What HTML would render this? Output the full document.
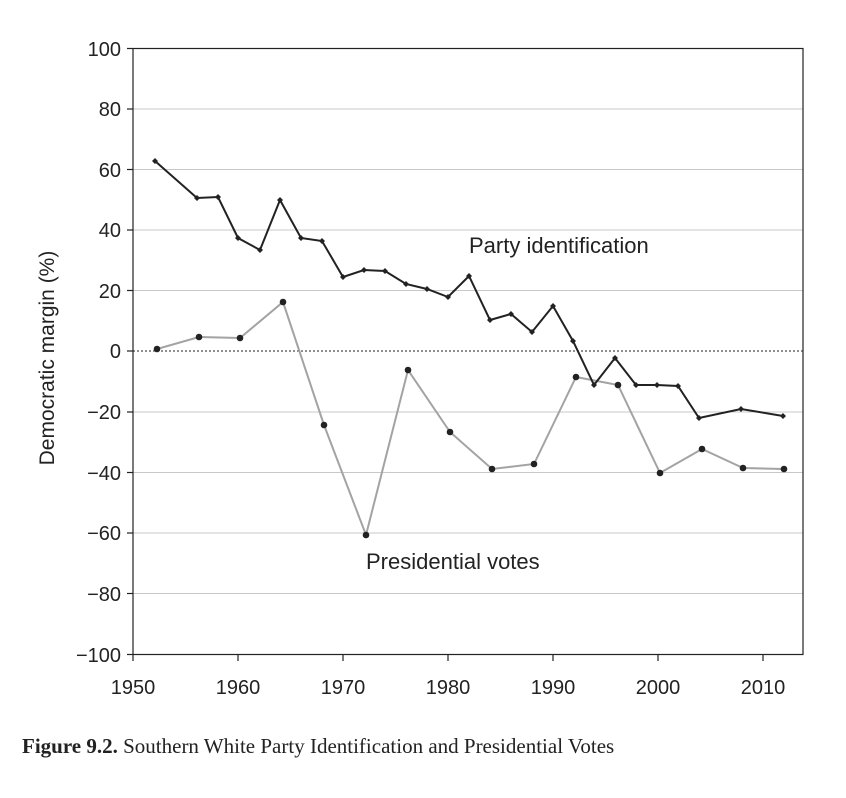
<!DOCTYPE html>
<html><head><meta charset="utf-8"><style>
body{margin:0;background:#fff;}
svg{display:block;}
</style></head><body>
<svg width="846" height="798" xmlns="http://www.w3.org/2000/svg">
<rect width="846" height="798" fill="#fff"/>
<g stroke="#c8c8c8" stroke-width="1">
<line x1="133" x2="803" y1="109" y2="109"/>
<line x1="133" x2="803" y1="169.5" y2="169.5"/>
<line x1="133" x2="803" y1="230" y2="230"/>
<line x1="133" x2="803" y1="290.5" y2="290.5"/>
<line x1="133" x2="803" y1="412" y2="412"/>
<line x1="133" x2="803" y1="472.5" y2="472.5"/>
<line x1="133" x2="803" y1="533" y2="533"/>
<line x1="133" x2="803" y1="593.5" y2="593.5"/>
</g>
<line x1="133" x2="803" y1="351" y2="351" stroke="#222" stroke-width="1" stroke-dasharray="2,2"/>
<rect x="133" y="48.5" width="670" height="606" fill="none" stroke="#222" stroke-width="1.2"/>
<g stroke="#222" stroke-width="1.2">
<line x1="127" x2="133" y1="48.5" y2="48.5"/><line x1="127" x2="133" y1="109" y2="109"/>
<line x1="127" x2="133" y1="169.5" y2="169.5"/><line x1="127" x2="133" y1="230" y2="230"/>
<line x1="127" x2="133" y1="290.5" y2="290.5"/><line x1="127" x2="133" y1="351" y2="351"/>
<line x1="127" x2="133" y1="412" y2="412"/><line x1="127" x2="133" y1="472.5" y2="472.5"/>
<line x1="127" x2="133" y1="533" y2="533"/><line x1="127" x2="133" y1="593.5" y2="593.5"/>
<line x1="127" x2="133" y1="654.5" y2="654.5"/>
<line x1="133" x2="133" y1="654" y2="661"/><line x1="238" x2="238" y1="654" y2="661"/>
<line x1="343" x2="343" y1="654" y2="661"/><line x1="448" x2="448" y1="654" y2="661"/>
<line x1="553" x2="553" y1="654" y2="661"/><line x1="658" x2="658" y1="654" y2="661"/>
<line x1="763" x2="763" y1="654" y2="661"/>
</g>
<g font-family="Liberation Sans, sans-serif" font-size="20" fill="#222" text-anchor="end">
<text x="121" y="56">100</text><text x="121" y="116">80</text><text x="121" y="177">60</text>
<text x="121" y="237">40</text><text x="121" y="298">20</text><text x="121" y="358">0</text>
<text x="121" y="419">−20</text><text x="121" y="480">−40</text><text x="121" y="540">−60</text>
<text x="121" y="601">−80</text><text x="121" y="662">−100</text>
</g>
<g font-family="Liberation Sans, sans-serif" font-size="20" fill="#222" text-anchor="middle">
<text x="133" y="694">1950</text><text x="238" y="694">1960</text><text x="343" y="694">1970</text>
<text x="448" y="694">1980</text><text x="553" y="694">1990</text><text x="658" y="694">2000</text>
<text x="763" y="694">2010</text>
</g>
<text transform="translate(54,358) rotate(-90)" font-family="Liberation Sans, sans-serif" font-size="21" fill="#222" text-anchor="middle">Democratic margin (%)</text>
<text x="469" y="253" font-family="Liberation Sans, sans-serif" font-size="22" fill="#222">Party identification</text>
<text x="366" y="569" font-family="Liberation Sans, sans-serif" font-size="22" fill="#222">Presidential votes</text>
<polyline fill="none" stroke="#a3a3a3" stroke-width="2" points="157,349 199,337 240,338 283,302 324,425 366,535 408,370 450,432 492,469 534,464 576,377 618,385 660,473 702,449 743,468 784,469"/>
<g fill="#222">
<circle cx="157" cy="349" r="3.3"/><circle cx="199" cy="337" r="3.3"/><circle cx="240" cy="338" r="3.3"/><circle cx="283" cy="302" r="3.3"/><circle cx="324" cy="425" r="3.3"/><circle cx="366" cy="535" r="3.3"/><circle cx="408" cy="370" r="3.3"/><circle cx="450" cy="432" r="3.3"/><circle cx="492" cy="469" r="3.3"/><circle cx="534" cy="464" r="3.3"/><circle cx="576" cy="377" r="3.3"/><circle cx="618" cy="385" r="3.3"/><circle cx="660" cy="473" r="3.3"/><circle cx="702" cy="449" r="3.3"/><circle cx="743" cy="468" r="3.3"/><circle cx="784" cy="469" r="3.3"/>
</g>
<polyline fill="none" stroke="#222" stroke-width="2" points="155,161 197,198 218,197 238,238 260,250 280,200 301,238 322,241 343,277 364,270 385,271 406,284 427,289 448,297 469,276 490,320 511,314 532,332 553,306 573,341 594,385 615,358 636,385 657,385 678,386 699,418 741,409 783,416"/>
<g fill="#222">
<path d="M155,158l3,3l-3,3l-3,-3z M197,195l3,3l-3,3l-3,-3z M218,194l3,3l-3,3l-3,-3z M238,235l3,3l-3,3l-3,-3z M260,247l3,3l-3,3l-3,-3z M280,197l3,3l-3,3l-3,-3z M301,235l3,3l-3,3l-3,-3z M322,238l3,3l-3,3l-3,-3z M343,274l3,3l-3,3l-3,-3z M364,267l3,3l-3,3l-3,-3z M385,268l3,3l-3,3l-3,-3z M406,281l3,3l-3,3l-3,-3z M427,286l3,3l-3,3l-3,-3z M448,294l3,3l-3,3l-3,-3z M469,273l3,3l-3,3l-3,-3z M490,317l3,3l-3,3l-3,-3z M511,311l3,3l-3,3l-3,-3z M532,329l3,3l-3,3l-3,-3z M553,303l3,3l-3,3l-3,-3z M573,338l3,3l-3,3l-3,-3z M594,382l3,3l-3,3l-3,-3z M615,355l3,3l-3,3l-3,-3z M636,382l3,3l-3,3l-3,-3z M657,382l3,3l-3,3l-3,-3z M678,383l3,3l-3,3l-3,-3z M699,415l3,3l-3,3l-3,-3z M741,406l3,3l-3,3l-3,-3z M783,413l3,3l-3,3l-3,-3z"/>
</g>
<text x="22" y="753" font-family="Liberation Serif, serif" font-size="21" fill="#222"><tspan font-weight="bold">Figure 9.2.</tspan> Southern White Party Identification and Presidential Votes</text>
</svg>
</body></html>
